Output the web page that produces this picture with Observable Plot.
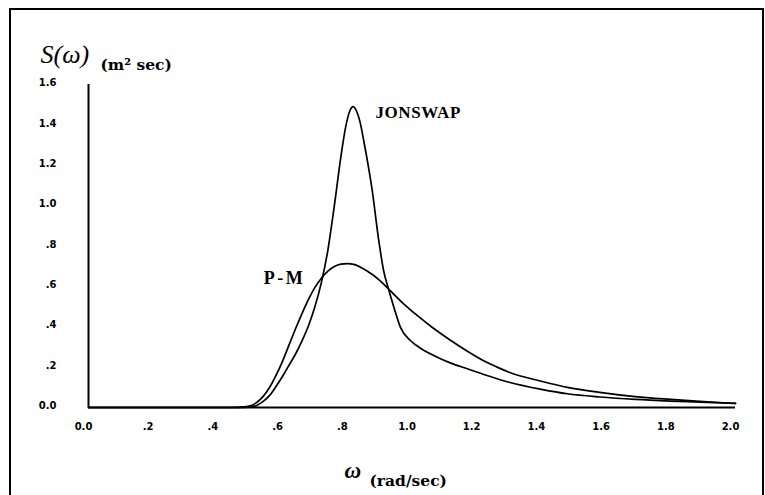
<!DOCTYPE html>
<html>
<head>
<meta charset="utf-8">
<script src="https://cdn.jsdelivr.net/npm/d3@7"></script>
<script src="https://cdn.jsdelivr.net/npm/@observablehq/plot@0.6"></script>
<style>
  html, body { margin: 0; padding: 0; background: #fff; }
  #wrap { position: relative; width: 765px; height: 495px; overflow: hidden; }
  #frame { position: absolute; left: 9px; top: 8px; width: 751px; height: 520px; border: 2px solid #000; pointer-events: none; }
</style>
</head>
<body>
<div id="wrap"><div id="frame"></div></div>
<script>
// P-M spectrum
const omegaPM = [0, 0.44, 0.48, 0.50, 0.52, 0.54, 0.56, 0.58, 0.60, 0.62, 0.64, 0.66, 0.68, 0.70, 0.72, 0.74, 0.76, 0.78, 0.80, 0.82, 0.86, 0.90, 0.93, 0.97, 1.016, 1.06, 1.12, 1.17, 1.22, 1.27, 1.30, 1.40, 1.48, 1.58, 1.69, 1.80, 1.89, 2.0];
const spectrumPM = [0, 0, 0.003, 0.008, 0.025, 0.055, 0.10, 0.16, 0.23, 0.31, 0.39, 0.465, 0.535, 0.595, 0.64, 0.675, 0.698, 0.71, 0.713, 0.709, 0.677, 0.63, 0.583, 0.52, 0.456, 0.40, 0.332, 0.28, 0.233, 0.195, 0.175, 0.13, 0.10, 0.075, 0.054, 0.04, 0.03, 0.02];

// JONSWAP spectrum
const omegaJS = [0, 0.46, 0.50, 0.52, 0.54, 0.56, 0.58, 0.60, 0.62, 0.64, 0.66, 0.68, 0.70, 0.72, 0.74, 0.76, 0.78, 0.795, 0.808, 0.818, 0.828, 0.84, 0.851, 0.877, 0.897, 0.912, 0.928, 0.944, 0.964, 0.995, 1.03, 1.067, 1.12, 1.171, 1.23, 1.30, 1.40, 1.48, 1.58, 1.69, 1.80, 1.89, 2.0];
const spectrumJS = [0, 0, 0.003, 0.01, 0.03, 0.06, 0.105, 0.155, 0.21, 0.265, 0.33, 0.405, 0.50, 0.62, 0.78, 1.0, 1.24, 1.39, 1.47, 1.49, 1.47, 1.41, 1.32, 1.075, 0.83, 0.68, 0.583, 0.497, 0.398, 0.332, 0.29, 0.258, 0.22, 0.192, 0.16, 0.125, 0.09, 0.068, 0.052, 0.04, 0.032, 0.027, 0.02];

const seriesNames = ["P-M", "JONSWAP"];

const xTicks = [0, 0.2, 0.4, 0.6, 0.8, 1.0, 1.2, 1.4, 1.6, 1.8, 2.0];
const xTickLabels = ["0.0", ".2", ".4", ".6", ".8", "1.0", "1.2", "1.4", "1.6", "1.8", "2.0"];
const yTicks = [0, 0.2, 0.4, 0.6, 0.8, 1.0, 1.2, 1.4, 1.6];
const yTickLabels = ["0.0", ".2", ".4", ".6", ".8", "1.0", "1.2", "1.4", "1.6"];

const yTitle = "S(ω)";
const yUnit = "(m² sec)";
const xTitle = "ω";
const xUnit = "(rad/sec)";

const pm = omegaPM.map((w, i) => ({w, s: spectrumPM[i]}));
const js = omegaJS.map((w, i) => ({w, s: spectrumJS[i]}));

const serif = "'Liberation Serif', 'Times New Roman', serif";
const wideSerif = "'DejaVu Serif', serif";

const chart = Plot.plot({
  width: 765,
  height: 495,
  marginLeft: 88,
  marginRight: 30,
  marginTop: 84,
  marginBottom: 88,
  x: {domain: [0, 2]},
  y: {domain: [0, 1.6]},
  style: {fontFamily: "'DejaVu Sans', sans-serif", fontSize: "10px", fontWeight: "bold", background: "transparent", color: "#000"},
  marks: [
    Plot.axisX(xTicks, {tickSize: 0, tickPadding: 15, dx: -5, label: null,
      tickFormat: d => xTickLabels[xTicks.indexOf(d)], fontWeight: "bold"}),
    Plot.axisY(yTicks, {tickSize: 0, tickPadding: 32, dy: -1.5, label: null,
      tickFormat: d => yTickLabels[yTicks.indexOf(d)], fontWeight: "bold"}),
    Plot.ruleX([0], {stroke: "#000", strokeWidth: 2}),
    Plot.ruleY([0], {stroke: "#000", strokeWidth: 2}),
    Plot.line(pm, {x: "w", y: "s", curve: "monotone-x", stroke: "#000", strokeWidth: 1.7}),
    Plot.line(js, {x: "w", y: "s", curve: "monotone-x", stroke: "#000", strokeWidth: 1.7}),
    Plot.text([{w: 0.887, s: 1.46, label: seriesNames[1]}], {x: "w", y: "s", text: "label", textAnchor: "start",
      fontFamily: serif, fontWeight: "bold", fontSize: 17}),
    Plot.text([{w: 0.542, s: 0.64, label: seriesNames[0]}], {x: "w", y: "s", text: "label", textAnchor: "start",
      fontFamily: serif, fontWeight: "bold", fontSize: 18}),
    Plot.text([yTitle], {text: d => d, frameAnchor: "top-left", dx: -48, dy: -30, textAnchor: "start", lineAnchor: "middle",
      fontFamily: serif, fontStyle: "italic", fontWeight: "normal", fontSize: 26}),
    Plot.text([yUnit], {text: d => d, frameAnchor: "top-left", dx: 12, dy: -19, textAnchor: "start", lineAnchor: "middle",
      fontFamily: wideSerif, fontWeight: "bold", fontSize: 15.5}),
    Plot.text([xTitle], {text: d => d, frameAnchor: "bottom-left", dx: 256, dy: 63, textAnchor: "start", lineAnchor: "middle",
      fontFamily: serif, fontStyle: "italic", fontWeight: "bold", fontSize: 23}),
    Plot.text([xUnit], {text: d => d, frameAnchor: "bottom-left", dx: 281, dy: 74, textAnchor: "start", lineAnchor: "middle",
      fontFamily: wideSerif, fontWeight: "bold", fontSize: 15.5})
  ]
});

// letter spacing for the series labels
d3.select(chart).selectAll("text").each(function() {
  const t = this.textContent;
  if (t === seriesNames[1]) d3.select(this).attr("letter-spacing", "0.6px");
  if (t === seriesNames[0]) d3.select(this).attr("letter-spacing", "2.5px");
});

chart.style.position = "absolute";
chart.style.left = "0px";
chart.style.top = "0px";
const wrap = document.getElementById("wrap");
wrap.insertBefore(chart, wrap.firstChild);
</script>
</body>
</html>
